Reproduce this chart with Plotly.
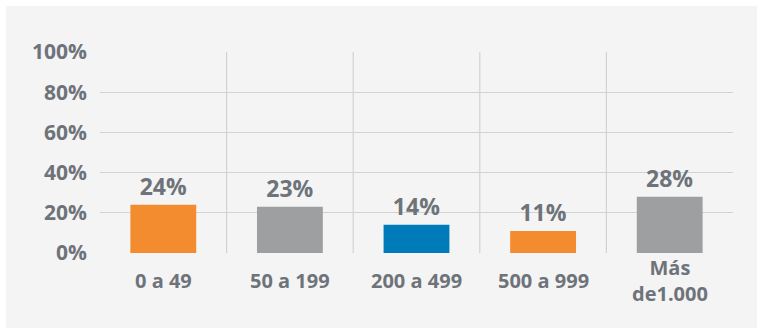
import plotly.graph_objects as go

# Share of companies by number of employees
categories = ["0 a 49", "50 a 199", "200 a 499", "500 a 999", "Más<br>de1.000"]
values = [24, 23, 14, 11, 28]
bar_colors = ["#F28C2E", "#9D9FA0", "#007BBA", "#F28C2E", "#9D9FA0"]
y_ticks = [0, 20, 40, 60, 80, 100]
y_tick_labels = [f"{v}%" for v in y_ticks]

TEXT = "#6E737A"
GRID = "#D2D2D2"
FONT = "Open Sans"
WEIGHT = 700

W, H = 757, 329
ML, MR, MT, MB = 100, 24, 52, 76
PW, PH = W - ML - MR, H - MT - MB

fig = go.Figure(
    go.Bar(
        x=list(range(len(categories))),
        y=values,
        marker=dict(color=bar_colors, line=dict(width=0)),
        text=[f"{v}%" for v in values],
        textposition="outside",
        cliponaxis=False,
        textfont=dict(family=FONT, size=23, color=TEXT, weight=WEIGHT),
        hoverinfo="skip",
    )
)

# light panel behind the whole chart
fig.add_shape(
    type="rect", xref="paper", yref="paper", layer="below",
    x0=(6 - ML) / PW, x1=(W - ML) / PW,
    y0=-(H - 1 - MT - PH) / PH, y1=(MT + PH - 6) / PH,
    fillcolor="#F4F4F4", line=dict(width=0),
)

# vertical separators between categories
for i in range(len(categories) - 1):
    fig.add_shape(
        type="line", xref="x", yref="y", layer="below",
        x0=i + 0.5, x1=i + 0.5, y0=0, y1=100,
        line=dict(color=GRID, width=1.2),
    )

# category labels under the axis, vertically centred on one row
label_y = -(280 - (MT + PH)) / PH
for i, c in enumerate(categories):
    fig.add_annotation(
        x=i, y=label_y, xref="x", yref="paper", text=c, showarrow=False,
        yanchor="middle", xanchor="center",
        font=dict(family=FONT, size=20, color=TEXT, weight=WEIGHT),
    )

fig.update_layout(
    width=W, height=H,
    margin=dict(l=ML, r=MR, t=MT, b=MB, pad=0),
    paper_bgcolor="#FFFFFF",
    plot_bgcolor="rgba(0,0,0,0)",
    bargap=0.48,
    showlegend=False,
    xaxis=dict(
        range=[-0.5, len(categories) - 0.5],
        showgrid=False, zeroline=False, showticklabels=False,
        showline=False, fixedrange=True,
    ),
    yaxis=dict(
        range=[0, 100],
        tickvals=y_ticks, ticktext=y_tick_labels,
        showgrid=True, gridcolor=GRID, gridwidth=1.2,
        zeroline=False, showline=False,
        ticks="", ticklabelstandoff=12,
        tickfont=dict(family=FONT, size=21, color=TEXT, weight=WEIGHT),
        fixedrange=True,
    ),
)

fig.write_html("out.html")
